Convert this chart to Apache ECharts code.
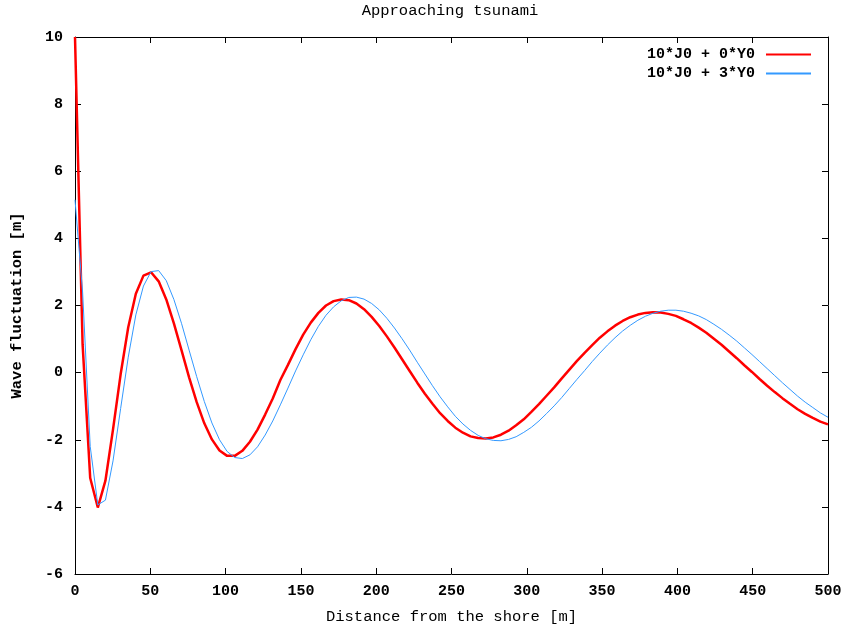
<!DOCTYPE html>
<html>
<head>
<meta charset="utf-8">
<script src="https://cdn.jsdelivr.net/npm/echarts@6/dist/echarts.min.js"></script>
<style>
html,body{margin:0;padding:0;background:#fff;}
#chart{width:849px;height:631px;}
</style>
</head>
<body>
<div id="chart"></div>
<script>
// Sample positions along the shore [m]
const xs = [0, 5.05, 10.10, 15.15, 20.20, 25.25, 30.30, 35.35, 40.40, 45.45,
  50.51, 55.56, 60.61, 65.66, 70.71, 75.76, 80.81, 85.86, 90.91, 95.96,
  101.01, 106.06, 111.11, 116.16, 121.21, 126.26, 131.31, 136.36, 141.41, 146.46,
  151.52, 156.57, 161.62, 166.67, 171.72, 176.77, 181.82, 186.87, 191.92, 196.97,
  202.02, 207.07, 212.12, 217.17, 222.22, 227.27, 232.32, 237.37, 242.42, 247.47,
  252.53, 257.58, 262.63, 267.68, 272.73, 277.78, 282.83, 287.88, 292.93, 297.98,
  303.03, 308.08, 313.13, 318.18, 323.23, 328.28, 333.33, 338.38, 343.43, 348.48,
  353.54, 358.59, 363.64, 368.69, 373.74, 378.79, 383.84, 388.89, 393.94, 398.99,
  404.04, 409.09, 414.14, 419.19, 424.24, 429.29, 434.34, 439.39, 444.44, 449.49,
  454.55, 459.60, 464.65, 469.70, 474.75, 479.80, 484.85, 489.90, 494.95, 500];

// 10*J0 + 0*Y0
const redY = [10, 0.84, -3.14, -4.02, -3.22, -1.69, -0.05, 1.35, 2.35, 2.89,
  2.99, 2.72, 2.18, 1.47, 0.67, -0.14, -0.88, -1.51, -1.99, -2.32,
  -2.48, -2.48, -2.33, -2.06, -1.70, -1.25, -0.77, -0.22, 0.23, 0.70,
  1.13, 1.49, 1.78, 2.00, 2.13, 2.18, 2.16, 2.06, 1.89, 1.66,
  1.39, 1.08, 0.75, 0.40, 0.05, -0.30, -0.63, -0.93, -1.21, -1.44,
  -1.64, -1.79, -1.90, -1.95, -1.96, -1.93, -1.85, -1.73, -1.57, -1.39,
  -1.17, -0.94, -0.69, -0.44, -0.17, 0.09, 0.35, 0.59, 0.82, 1.04,
  1.23, 1.40, 1.54, 1.65, 1.73, 1.78, 1.80, 1.79, 1.75, 1.69,
  1.59, 1.48, 1.34, 1.19, 1.01, 0.83, 0.63, 0.43, 0.22, 0.02,
  -0.19, -0.39, -0.58, -0.76, -0.93, -1.09, -1.23, -1.35, -1.46, -1.54];

// 10*J0 + 3*Y0
const blueY = [5.15, 2.40, -2.20, -3.94, -3.80, -2.63, -1.07, 0.46, 1.72, 2.58,
  3.01, 3.04, 2.74, 2.18, 1.47, 0.67, -0.12, -0.86, -1.50, -2.00,
  -2.35, -2.53, -2.56, -2.45, -2.21, -1.86, -1.44, -0.96, -0.46, 0.05,
  0.53, 0.98, 1.38, 1.71, 1.96, 2.14, 2.24, 2.25, 2.19, 2.06,
  1.87, 1.62, 1.33, 1.01, 0.67, 0.31, -0.04, -0.39, -0.72, -1.02,
  -1.30, -1.53, -1.72, -1.87, -1.97, -2.02, -2.03, -1.99, -1.91, -1.78,
  -1.63, -1.44, -1.22, -0.99, -0.74, -0.47, -0.20, 0.06, 0.33, 0.58,
  0.82, 1.04, 1.24, 1.41, 1.56, 1.68, 1.77, 1.83, 1.86, 1.86,
  1.83, 1.77, 1.69, 1.58, 1.44, 1.29, 1.12, 0.94, 0.74, 0.54,
  0.33, 0.12, -0.09, -0.30, -0.50, -0.70, -0.88, -1.04, -1.20, -1.33];

const seriesNames = ['10*J0 + 0*Y0', '10*J0 + 3*Y0'];
const titleText = 'Approaching tsunami';
const xName = 'Distance from the shore [m]';
const yName = 'Wave fluctuation [m]';

const FONT = '"Liberation Mono", "DejaVu Sans Mono", monospace';
const tickFont = {fontFamily: FONT, fontWeight: 'bold', fontSize: 15, color: '#000'};
const axisLine = {show: true, onZero: false, lineStyle: {color: '#000', width: 1}};
const tick = {show: true, inside: true, length: 6, lineStyle: {color: '#000'}};

const chart = echarts.init(document.getElementById('chart'), null, {renderer: 'canvas'});
chart.setOption({
  animation: false,
  backgroundColor: '#fff',
  title: {
    text: titleText, left: 445, top: -2, textAlign: 'center',
    textStyle: {fontFamily: FONT, fontWeight: 'normal', fontSize: 15.5, color: '#000'}
  },
  legend: {
    orient: 'vertical', right: 32, top: 42, align: 'right',
    itemWidth: 45, itemHeight: 14, itemGap: 4,
    itemStyle: {opacity: 0},
    textStyle: Object.assign({padding: [0, 6, 0, 0]}, tickFont),
    data: seriesNames
  },
  grid: {left: 75, right: 21, top: 37, bottom: 57, containLabel: false},
  xAxis: [
    {type: 'value', min: 0, max: 500, interval: 50, position: 'bottom',
     name: xName, nameLocation: 'middle', nameGap: 35,
     nameTextStyle: {fontFamily: FONT, fontWeight: 'normal', fontSize: 15.5, color: '#000'},
     axisLine: axisLine, axisTick: tick, splitLine: {show: false},
     axisLabel: Object.assign({margin: 10}, tickFont)},
    {type: 'value', min: 0, max: 500, interval: 50, position: 'top',
     axisLine: axisLine, axisTick: tick, splitLine: {show: false},
     axisLabel: {show: false}}
  ],
  yAxis: [
    {type: 'value', min: -6, max: 10, interval: 2, position: 'left',
     name: yName, nameLocation: 'middle', nameGap: 50, nameRotate: 90,
     nameTextStyle: {fontFamily: FONT, fontWeight: 'bold', fontSize: 15.5, color: '#000'},
     axisLine: axisLine, axisTick: tick, splitLine: {show: false},
     axisLabel: Object.assign({margin: 12}, tickFont)},
    {type: 'value', min: -6, max: 10, interval: 2, position: 'right',
     axisLine: axisLine, axisTick: tick, splitLine: {show: false},
     axisLabel: {show: false}}
  ],
  series: [
    {name: seriesNames[0], type: 'line', xAxisIndex: 0, yAxisIndex: 0,
     data: xs.map((x, i) => [x, redY[i]]),
     symbol: 'none', showSymbol: false, clip: true,
     lineStyle: {color: '#ff0000', width: 2.5}, itemStyle: {color: '#ff0000'}},
    {name: seriesNames[1], type: 'line', xAxisIndex: 0, yAxisIndex: 0,
     data: xs.map((x, i) => [x, blueY[i]]),
     symbol: 'none', showSymbol: false, clip: true,
     lineStyle: {color: '#3399ff', width: 1}, itemStyle: {color: '#3399ff'}}
  ]
});
</script>
</body>
</html>
